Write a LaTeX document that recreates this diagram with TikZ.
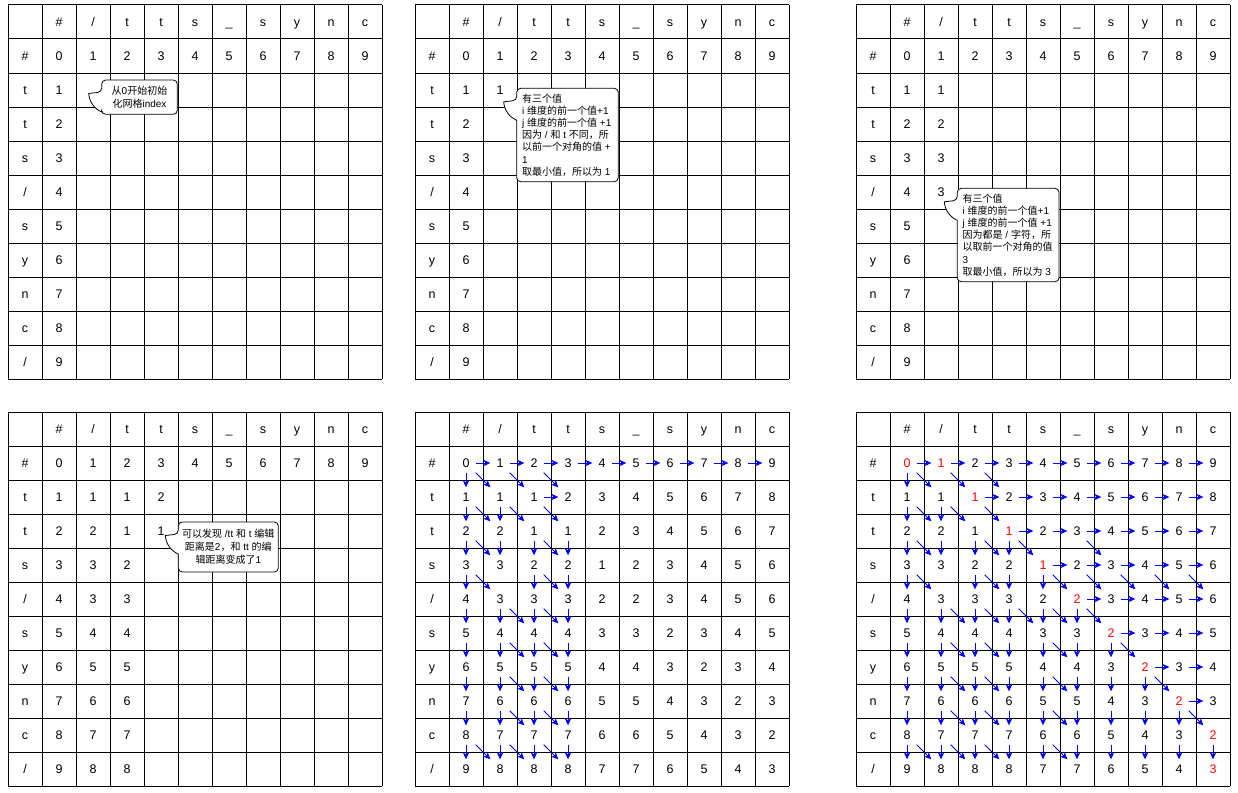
\documentclass[tikz,border=0pt]{standalone}
\usepackage{fontspec}
\setmainfont{Liberation Sans}
\newfontfamily\cjk{Noto Sans CJK SC}
\usetikzlibrary{arrows.meta}
\newcommand\zh[1]{{\cjk #1}}
\def\Dflat{{0,1,2,3,4,5,6,7,8,9,1,1,1,2,3,4,5,6,7,8,2,2,1,1,2,3,4,5,6,7,3,3,2,2,1,2,3,4,5,6,4,3,3,3,2,2,3,4,5,6,5,4,4,4,3,3,2,3,4,5,6,5,5,5,4,4,3,2,3,4,7,6,6,6,5,5,4,3,2,3,8,7,7,7,6,6,5,4,3,2,9,8,8,8,7,7,6,5,4,3}}
\def\Cw{{0,1,2,2,3,4,3,5,6,7}}
\def\Rw{{0,2,2,3,1,3,5,6,7,1}}
% grid, headers
\newcommand\panelbase[3]{%
  \foreach \k in {0,...,11}{%
    \draw[gridline] ({#2+34*\k},#3) -- ({#2+34*\k},{#3+374});
    \draw[gridline] (#2,{#3+34*\k}) -- ({#2+374},{#3+34*\k});
  }%
  \foreach \h [count=\k from 0] in {\#,/,t,t,s,\_,s,y,n,c}{%
    \node[cell] (#1-ch\k) at ({#2+34*\k+51},{#3+17}) {\h};
  }%
  \foreach \h [count=\k from 0] in {\#,t,t,s,/,s,y,n,c,/}{%
    \node[cell] (#1-rh\k) at ({#2+17},{#3+34*\k+51}) {\h};
  }%
}
% value node: panel, ox, oy, i, j, style
\newcommand\putval[6]{%
  \pgfmathtruncatemacro\vv{\Dflat[10*#4+#5]}%
  \node[cell,#6] (#1-#4-#5) at ({#2+34*#5+51},{#3+34*#4+51}) {\vv};%
}
% arrows into cell (i,j)
\newcommand\arrowsfor[3]{%
  \pgfmathtruncatemacro\vv{\Dflat[10*#2+#3]}%
  \ifnum#2>0\relax
    \pgfmathtruncatemacro\vu{\Dflat[10*(#2-1)+#3]+1}%
    \pgfmathtruncatemacro\iu{#2-1}%
    \ifnum\vu=\vv\relax \draw[arr] (#1-\iu-#3) -- (#1-#2-#3); \fi
  \fi
  \ifnum#3>0\relax
    \pgfmathtruncatemacro\vl{\Dflat[10*#2+#3-1]+1}%
    \pgfmathtruncatemacro\jl{#3-1}%
    \ifnum\vl=\vv\relax \draw[arr] (#1-#2-\jl) -- (#1-#2-#3); \fi
  \fi
  \ifnum#2>0\relax\ifnum#3>0\relax
    \pgfmathtruncatemacro\rr{\Rw[#2]}%
    \pgfmathtruncatemacro\cc{\Cw[#3]}%
    \pgfmathtruncatemacro\vd{\Dflat[10*(#2-1)+#3-1]}%
    \ifnum\rr=\cc\relax\else\pgfmathtruncatemacro\vd{\vd+1}\fi
    \pgfmathtruncatemacro\iu{#2-1}%
    \pgfmathtruncatemacro\jl{#3-1}%
    \ifnum\vd=\vv\relax \draw[arr] (#1-\iu-\jl) -- (#1-#2-#3); \fi
  \fi\fi
}
% callout outline: L, T, R, B
\newcommand\calloutbox[4]{%
  \draw[callbox,rounded corners=4pt] (#1,{#2+32}) -- (#1,#4) -- (#3,#4) -- (#3,#2) -- (#1,#2) -- (#1,{#2+12})
    [sharp corners] .. controls ({#1-4},{#2+12.5}) and ({#1-9},{#2+13}) .. ({#1-13},{#2+13.5})
    .. controls ({#1-12.5},{#2+22}) and ({#1-7},{#2+29}) .. (#1,{#2+32}) -- cycle;
}
\begin{document}
\begin{tikzpicture}[x=1pt,y=-1pt,
  gridline/.style={line width=1pt, black},
  cell/.style={minimum width=19pt, minimum height=19pt, inner sep=0pt, text height=9pt, text depth=0pt, font=\fontsize{12.5}{14}\selectfont},
  redtext/.style={text=red},
  arr/.style={blue, line width=0.9pt, -{Stealth[length=7pt,width=6.5pt,inset=2pt]}},
  callbox/.style={draw=black, fill=white, line width=0.8pt},
  calltext/.style={inner sep=0pt, font=\fontsize{10}{12.2}\selectfont}]
\fill[white] (0,0) rectangle (1238,792);
\useasboundingbox (0,0) rectangle (1238,792);

% ---------- panel 1
\panelbase{p1}{8}{5}
\foreach \j in {0,...,9}{\putval{p1}{8}{5}{0}{\j}{}}
\foreach \i in {1,...,9}{\putval{p1}{8}{5}{\i}{0}{}}
\calloutbox{101.7}{80}{177.3}{114.3}
\node[calltext, align=center, font=\fontsize{10}{13}\selectfont] (p1-note) at (139.5,97.2) {\zh{从}0\zh{开始初始}\\\zh{化网格}index};

% ---------- panel 2
\panelbase{p2}{415}{5}
\foreach \j in {0,...,9}{\putval{p2}{415}{5}{0}{\j}{}}
\foreach \i in {1,...,9}{\putval{p2}{415}{5}{\i}{0}{}}
\putval{p2}{415}{5}{1}{1}{}
\calloutbox{516.7}{88.3}{618.3}{181.7}
\node[calltext, align=left, anchor=west] (p2-note) at (522,135) {\zh{有三个值}\\i \zh{维度的前一个值}+1\\j \zh{维度的前一个值} +1\\\zh{因为} / \zh{和} t \zh{不同，所}\\\zh{以前一个对角的值} +\\1\\\zh{取最小值，所以为} 1};

% ---------- panel 3
\panelbase{p3}{856}{5}
\foreach \j in {0,...,9}{\putval{p3}{856}{5}{0}{\j}{}}
\foreach \i in {1,...,9}{\putval{p3}{856}{5}{\i}{0}{}}
\foreach \i in {1,...,4}{\putval{p3}{856}{5}{\i}{1}{}}
\calloutbox{957.3}{188.3}{1059}{281.7}
\node[calltext, align=left, anchor=west] (p3-note) at (962.5,235) {\zh{有三个值}\\i \zh{维度的前一个值}+1\\j \zh{维度的前一个值} +1\\\zh{因为都是} / \zh{字符，所}\\\zh{以取前一个对角的值}\\3\\\zh{取最小值，所以为} 3};

% ---------- panel 4
\panelbase{p4}{8}{412}
\foreach \j in {0,...,9}{\putval{p4}{8}{412}{0}{\j}{}}
\foreach \i in {1,...,9}{\putval{p4}{8}{412}{\i}{0}{}\putval{p4}{8}{412}{\i}{1}{}\putval{p4}{8}{412}{\i}{2}{}}
\putval{p4}{8}{412}{1}{3}{}
\putval{p4}{8}{412}{2}{3}{}
\calloutbox{178.3}{522}{278.3}{572}
\node[calltext, align=center, font=\fontsize{10}{13}\selectfont] (p4-note) at (228.3,547) {\zh{可以发现} /tt \zh{和} t \zh{编辑}\\\zh{距离是}2\zh{，和} tt \zh{的编}\\\zh{辑距离变成了}1};

% ---------- panel 5
\panelbase{p5}{415}{412}
\foreach \i in {0,...,9}{\foreach \j in {0,...,9}{\putval{p5}{415}{412}{\i}{\j}{}}}
\foreach \j in {1,...,9}{\arrowsfor{p5}{0}{\j}}
\foreach \i in {1,...,9}{\foreach \j in {0,...,3}{\arrowsfor{p5}{\i}{\j}}}

% ---------- panel 6
\panelbase{p6}{856}{412}
\foreach \i in {0,...,9}{\foreach \j in {0,...,9}{%
  \pgfmathtruncatemacro\isred{or(\j==\i+1, and(\i==\j, or(\i==0,\i==9)))}%
  \ifnum\isred=1\relax \putval{p6}{856}{412}{\i}{\j}{redtext}\else\putval{p6}{856}{412}{\i}{\j}{}\fi
}}
\foreach \i in {0,...,9}{\foreach \j in {0,...,9}{%
  \pgfmathtruncatemacro\notorigin{\i+\j}%
  \ifnum\notorigin>0\relax \arrowsfor{p6}{\i}{\j}\fi
}}
\end{tikzpicture}
\end{document}
